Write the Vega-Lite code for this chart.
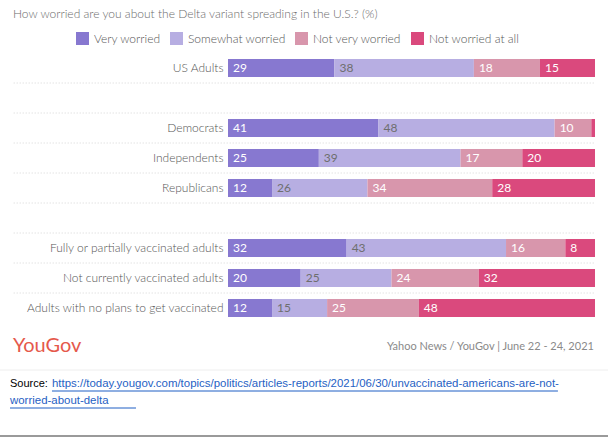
{
  "$schema": "https://vega.github.io/schema/vega-lite/v6.json",
  "width": 367,
  "height": 270,
  "autosize": {"type": "none"},
  "padding": {"left": 228, "top": 53, "right": 13, "bottom": 115},
  "background": "white",
  "config": {"view": {"stroke": null}, "font": "Lato"},
  "title": {
    "text": "How worried are you about the Delta variant spreading in the U.S.? (%)",
    "anchor": "start",
    "frame": "group",
    "dx": -215,
    "font": "Lato",
    "fontSize": 12,
    "fontWeight": 300,
    "color": "#6b6b6b",
    "offset": 11
  },
  "datasets": {
    "survey": [
      {"group": "US Adults", "level": "Very worried", "value": 29},
      {"group": "US Adults", "level": "Somewhat worried", "value": 38},
      {"group": "US Adults", "level": "Not very worried", "value": 18},
      {"group": "US Adults", "level": "Not worried at all", "value": 15},
      {"group": "Democrats", "level": "Very worried", "value": 41},
      {"group": "Democrats", "level": "Somewhat worried", "value": 48},
      {"group": "Democrats", "level": "Not very worried", "value": 10},
      {"group": "Democrats", "level": "Not worried at all", "value": 1},
      {"group": "Independents", "level": "Very worried", "value": 25},
      {"group": "Independents", "level": "Somewhat worried", "value": 39},
      {"group": "Independents", "level": "Not very worried", "value": 17},
      {"group": "Independents", "level": "Not worried at all", "value": 20},
      {"group": "Republicans", "level": "Very worried", "value": 12},
      {"group": "Republicans", "level": "Somewhat worried", "value": 26},
      {"group": "Republicans", "level": "Not very worried", "value": 34},
      {"group": "Republicans", "level": "Not worried at all", "value": 28},
      {"group": "Fully or partially vaccinated adults", "level": "Very worried", "value": 32},
      {"group": "Fully or partially vaccinated adults", "level": "Somewhat worried", "value": 43},
      {"group": "Fully or partially vaccinated adults", "level": "Not very worried", "value": 16},
      {"group": "Fully or partially vaccinated adults", "level": "Not worried at all", "value": 8},
      {"group": "Not currently vaccinated adults", "level": "Very worried", "value": 20},
      {"group": "Not currently vaccinated adults", "level": "Somewhat worried", "value": 25},
      {"group": "Not currently vaccinated adults", "level": "Not very worried", "value": 24},
      {"group": "Not currently vaccinated adults", "level": "Not worried at all", "value": 32},
      {"group": "Adults with no plans to get vaccinated", "level": "Very worried", "value": 12},
      {"group": "Adults with no plans to get vaccinated", "level": "Somewhat worried", "value": 15},
      {"group": "Adults with no plans to get vaccinated", "level": "Not very worried", "value": 25},
      {"group": "Adults with no plans to get vaccinated", "level": "Not worried at all", "value": 48}
    ],
    "levels": [
      {"level": "Very worried", "rank": 1},
      {"level": "Somewhat worried", "rank": 2},
      {"level": "Not very worried", "rank": 3},
      {"level": "Not worried at all", "rank": 4}
    ],
    "separators": [
      {"group": "gap1"},
      {"group": "Democrats"},
      {"group": "Independents"},
      {"group": "Republicans"},
      {"group": "gap2"},
      {"group": "Fully or partially vaccinated adults"},
      {"group": "Not currently vaccinated adults"},
      {"group": "Adults with no plans to get vaccinated"}
    ],
    "one": [{}]
  },
  "layer": [
    {
      "data": {"name": "separators"},
      "mark": {"type": "rule", "color": "#d6d6d6", "strokeDash": [1, 2], "strokeWidth": 1},
      "encoding": {
        "y": {"field": "group", "type": "nominal", "bandPosition": 0,
              "scale": {"domain": ["US Adults", "gap1", "Democrats", "Independents", "Republicans", "gap2", "Fully or partially vaccinated adults", "Not currently vaccinated adults", "Adults with no plans to get vaccinated"], "paddingInner": 0, "paddingOuter": 0},
              "axis": {"title": null, "domain": false, "ticks": false, "grid": false, "labelPadding": 5, "labelLimit": 260, "labelFont": "Lato", "labelFontSize": 12, "labelFontWeight": 300, "labelColor": "#555555", "labelExpr": "indexof(datum.value, 'gap') === 0 ? '' : datum.value"}},
        "x": {"datum": -0.584, "type": "quantitative", "scale": {"domain": [0, 1], "nice": false, "zero": false}, "axis": null},
        "x2": {"datum": 1}
      }
    },
    {
      "data": {"name": "survey"},
      "transform": [
        {"lookup": "level", "from": {"data": {"name": "levels"}, "key": "level", "fields": ["rank"]}},
        {"stack": "value", "groupby": ["group"], "sort": [{"field": "rank", "order": "ascending"}], "offset": "normalize", "as": ["v0", "v1"]}
      ],
      "layer": [
        {
          "mark": {"type": "bar", "height": {"band": 0.6}},
          "encoding": {
            "y": {"field": "group", "type": "nominal"},
            "x": {"field": "v0", "type": "quantitative", "axis": null},
            "x2": {"field": "v1"},
            "color": {
              "field": "level", "type": "nominal",
              "scale": {"domain": ["Very worried", "Somewhat worried", "Not very worried", "Not worried at all"], "range": ["#8778d0", "#b7aee2", "#d896ac", "#da497d"]},
              "legend": {"title": null, "orient": "none", "direction": "horizontal", "legendX": -152, "legendY": -21, "symbolType": "square", "symbolSize": 169, "symbolStrokeWidth": 0, "symbolOpacity": 1, "labelFont": "Lato", "labelFontSize": 12, "labelFontWeight": 300, "labelColor": "#555555", "labelOffset": 5, "columnPadding": 9}
            }
          }
        },
        {
          "transform": [{"filter": "datum.value >= 3"}],
          "mark": {"type": "text", "align": "left", "baseline": "middle", "dx": 5, "font": "Lato", "fontSize": 12},
          "encoding": {
            "y": {"field": "group", "type": "nominal"},
            "x": {"field": "v0", "type": "quantitative"},
            "text": {"field": "value", "type": "quantitative"},
            "color": {"condition": {"test": "datum.level === 'Somewhat worried'", "value": "#6e6e6e"}, "value": "#ffffff"}
          }
        }
      ]
    },
    {
      "data": {"name": "one"},
      "mark": {"type": "text", "text": "YouGov", "align": "left", "baseline": "middle", "dy": 38, "font": "Lato", "fontSize": 20, "color": "#e5594c"},
      "encoding": {
        "x": {"datum": -0.586, "type": "quantitative"},
        "y": {"datum": "Adults with no plans to get vaccinated", "type": "nominal"}
      }
    },
    {
      "data": {"name": "one"},
      "mark": {"type": "text", "text": "Yahoo News / YouGov | June 22 - 24, 2021", "align": "right", "baseline": "middle", "dy": 39, "font": "Lato", "fontSize": 11, "color": "#8a8a8a"},
      "encoding": {
        "x": {"datum": 0.997, "type": "quantitative"},
        "y": {"datum": "Adults with no plans to get vaccinated", "type": "nominal"}
      }
    },
    {
      "data": {"name": "one"},
      "mark": {"type": "rule", "color": "#eeeeee", "strokeWidth": 1, "yOffset": 62},
      "encoding": {
        "x": {"datum": -0.622, "type": "quantitative"},
        "x2": {"datum": 1.036},
        "y": {"datum": "Adults with no plans to get vaccinated", "type": "nominal"}
      }
    },
    {
      "data": {"name": "one"},
      "mark": {"type": "text", "text": "Source:", "align": "left", "baseline": "middle", "dy": 76, "font": "Liberation Sans", "fontSize": 11, "color": "#000000"},
      "encoding": {
        "x": {"datum": -0.594, "type": "quantitative"},
        "y": {"datum": "Adults with no plans to get vaccinated", "type": "nominal"}
      }
    },
    {
      "data": {"name": "one"},
      "mark": {"type": "text", "text": "https://today.yougov.com/topics/politics/articles-reports/2021/06/30/unvaccinated-americans-are-not-", "align": "left", "baseline": "middle", "dy": 76, "font": "Liberation Sans", "fontSize": 11.45, "color": "#1f5fc4"},
      "encoding": {
        "x": {"datum": -0.4796, "type": "quantitative"},
        "y": {"datum": "Adults with no plans to get vaccinated", "type": "nominal"}
      }
    },
    {
      "data": {"name": "one"},
      "mark": {"type": "rule", "color": "#1f5fc4", "strokeWidth": 1, "yOffset": 83},
      "encoding": {
        "x": {"datum": -0.4796, "type": "quantitative"},
        "x2": {"datum": 0.899},
        "y": {"datum": "Adults with no plans to get vaccinated", "type": "nominal"}
      }
    },
    {
      "data": {"name": "one"},
      "mark": {"type": "text", "text": "worried-about-delta", "align": "left", "baseline": "middle", "dy": 93, "font": "Liberation Sans", "fontSize": 11.45, "color": "#1f5fc4"},
      "encoding": {
        "x": {"datum": -0.594, "type": "quantitative"},
        "y": {"datum": "Adults with no plans to get vaccinated", "type": "nominal"}
      }
    },
    {
      "data": {"name": "one"},
      "mark": {"type": "rule", "color": "#1f5fc4", "strokeWidth": 1, "yOffset": 100},
      "encoding": {
        "x": {"datum": -0.594, "type": "quantitative"},
        "x2": {"datum": -0.2507},
        "y": {"datum": "Adults with no plans to get vaccinated", "type": "nominal"}
      }
    },
    {
      "data": {"name": "one"},
      "mark": {"type": "rule", "color": "#9a9a9a", "strokeWidth": 2, "yOffset": 128},
      "encoding": {
        "x": {"datum": -0.622, "type": "quantitative"},
        "x2": {"datum": 1.036},
        "y": {"datum": "Adults with no plans to get vaccinated", "type": "nominal"}
      }
    }
  ]
}
